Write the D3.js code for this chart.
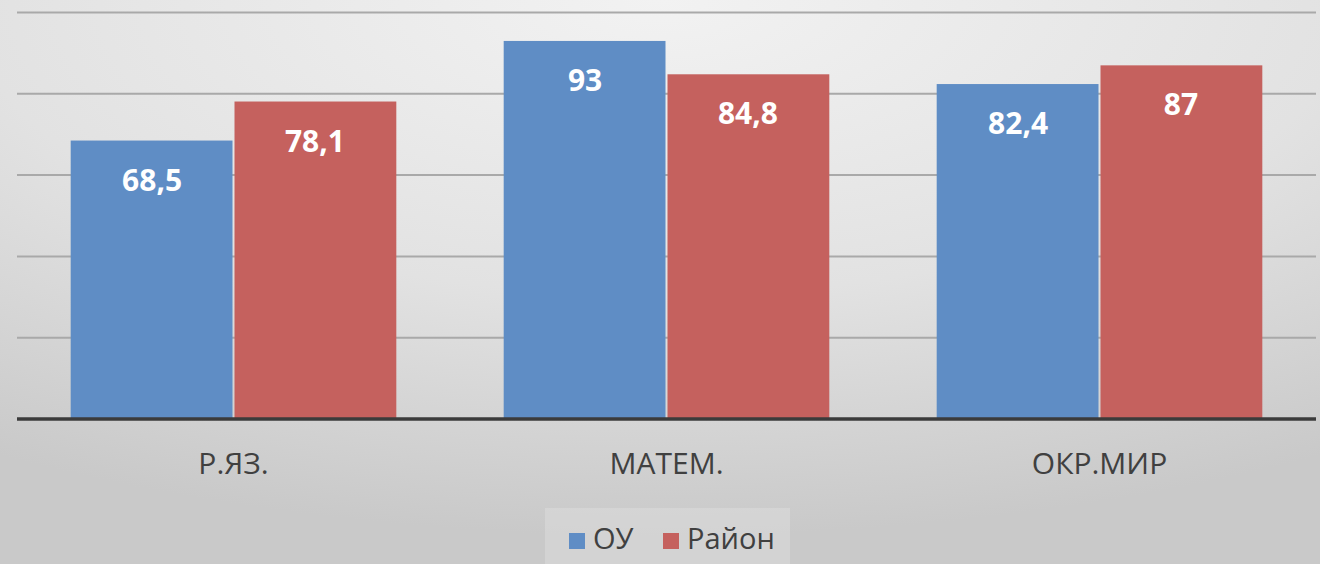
<!DOCTYPE html>
<html><head><meta charset="utf-8">
<script src="https://cdn.jsdelivr.net/npm/d3@7"></script>
<style>html,body{margin:0;padding:0;overflow:hidden;background:#ddd}</style>
</head><body>
<svg id="c" width="1320" height="564"></svg>
<script>
const categories = ["Р.ЯЗ.", "МАТЕМ.", "ОКР.МИР"];
const seriesNames = ["ОУ", "Район"];
const valuesOU = [68.5, 93, 82.4];
const valuesRayon = [78.1, 84.8, 87];
const labelsOU = ["68,5", "93", "82,4"];
const labelsRayon = ["78,1", "84,8", "87"];
const gridTicks = [0, 20, 40, 60, 80, 100];
const colors = ["#5f8dc5", "#c5615e"];

const svg = d3.select("#c");
const W = 1320, H = 564;
const defs = svg.append("defs");
const bg = defs.append("radialGradient").attr("id","bg")
  .attr("cx","50%").attr("cy","0%").attr("r","95%").attr("fx","50%").attr("fy","0%");
bg.append("stop").attr("offset","0%").attr("stop-color","#f2f2f2");
bg.append("stop").attr("offset","55%").attr("stop-color","#e2e2e2");
bg.append("stop").attr("offset","100%").attr("stop-color","#c9c9c9");
svg.append("rect").attr("width",W).attr("height",H).attr("fill","url(#bg)");

const x0 = d3.scaleBand().domain(categories).range([17, 1316]).paddingInner(0.248).paddingOuter(0.124);
const x1 = d3.scaleBand().domain(seriesNames).range([0, x0.bandwidth()]).padding(0);
const y = d3.scaleLinear().domain([0, 100]).range([419, 12.5]);

// gridlines
svg.append("g").selectAll("line").data(gridTicks.filter(d=>d>0)).join("line")
  .attr("x1",17).attr("x2",1316).attr("y1",d=>y(d)).attr("y2",d=>y(d))
  .attr("stroke","#a9a9a9").attr("stroke-width",2);

const data = categories.map((c,i)=>({c, vals:[
  {s:seriesNames[0], v:valuesOU[i], l:labelsOU[i], col:colors[0]},
  {s:seriesNames[1], v:valuesRayon[i], l:labelsRayon[i], col:colors[1]}]}));

const g = svg.append("g").selectAll("g").data(data).join("g")
  .attr("transform", d=>`translate(${x0(d.c)},0)`);
g.selectAll("rect").data(d=>d.vals).join("rect")
  .attr("x", d=>x1(d.s)+ (d.s===seriesNames[1]?1:0))
  .attr("width", d=>x1.bandwidth()-1)
  .attr("y", d=>y(d.v)).attr("height", d=>y(0)-y(d.v))
  .attr("fill", d=>d.col);
g.selectAll("text").data(d=>d.vals).join("text")
  .attr("x", d=>x1(d.s)+x1.bandwidth()/2)
  .attr("y", d=>y(d.v)+50)
  .attr("text-anchor","middle")
  .attr("font-family","'Open Sans', sans-serif").attr("font-weight","bold")
  .attr("font-size",30).attr("fill","#ffffff")
  .text(d=>d.l);

// axis baseline
svg.append("line").attr("x1",17).attr("x2",1316).attr("y1",y(0)).attr("y2",y(0))
  .attr("stroke","#3b3b3b").attr("stroke-width",3.5);

// category labels
const xAxis = d3.axisBottom(x0).tickSize(0).tickPadding(0);
const ax = svg.append("g").call(xAxis);
ax.select(".domain").remove();
ax.selectAll("text").attr("y", 474).attr("dy",0)
  .attr("font-family","'Open Sans', sans-serif").attr("font-size",30).attr("fill","#404040");

// legend
const leg = svg.append("g");
leg.append("rect").attr("x",545).attr("y",508).attr("width",245).attr("height",56).attr("fill","#ececec").attr("opacity",0.3);
const items = [{n:seriesNames[0], c:colors[0], x:569}, {n:seriesNames[1], c:colors[1], x:663}];
items.forEach(it=>{
  leg.append("rect").attr("x",it.x).attr("y",533).attr("width",16).attr("height",16).attr("fill",it.c);
  leg.append("text").attr("x",it.x+24).attr("y",549)
    .attr("font-family","'Open Sans', sans-serif").attr("font-size",29).attr("fill","#404040").text(it.n);
});
</script>
</body></html>
